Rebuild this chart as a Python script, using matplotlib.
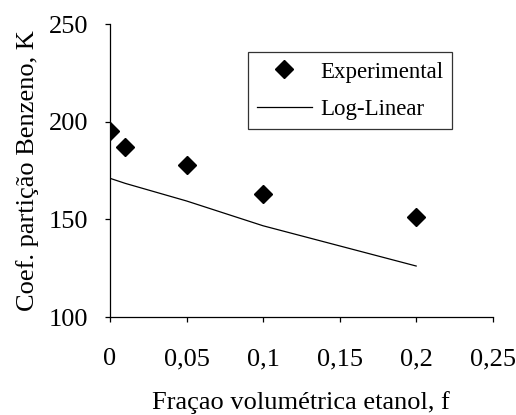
import matplotlib.pyplot as plt

# Benzene partition coefficient vs ethanol volume fraction
fracao = [0, 0.01, 0.05, 0.1, 0.2]
k_experimental = [195, 187, 178, 163, 151]
k_log_linear = [171, 168.4, 159.4, 146.7, 126.1]

plt.rcParams['font.family'] = ['Liberation Serif', 'DejaVu Serif']

fig = plt.figure(figsize=(5.16, 4.15), dpi=100)
ax = fig.add_axes([110 / 516, 1 - 317 / 415, (492.7 - 110) / 516, (317 - 24) / 415])

ax.plot(fracao, k_experimental, 'D', color='black', markersize=9, label='Experimental')
ax.plot(fracao, k_log_linear, '-', color='black', linewidth=0.9, label='Log-Linear')

ax.set_xlim(0, 0.25)
ax.set_ylim(100, 250)
ax.set_xticks([0, 0.05, 0.1, 0.15, 0.2, 0.25])
ax.set_xticklabels(['0', '0,05', '0,1', '0,15', '0,2', '0,25'])
ax.set_yticks([100, 150, 200, 250])

ax.spines['top'].set_visible(False)
ax.spines['right'].set_visible(False)
ax.spines['left'].set_linewidth(0.9)
ax.spines['bottom'].set_linewidth(0.9)
ax.tick_params(axis='both', direction='out', length=3.5, width=0.9, labelsize=19)
ax.tick_params(axis='x', pad=19)
ax.tick_params(axis='y', pad=12)

ax.set_xlabel('Fraçao volumétrica etanol, f', fontsize=19, labelpad=15)
ax.set_ylabel('Coef. partição Benzeno, K', fontsize=19, labelpad=7)

# legend box sits in the upper right, framed with a thin black border
leg = ax.legend(loc='upper right', bbox_to_anchor=((452.3 - 110) / 382.7, 1 - (52.3 - 24) / 293),
                fontsize=16.5, frameon=True, fancybox=False, edgecolor='black',
                handlelength=2.4, handletextpad=0.35, borderpad=0.4, labelspacing=0.7,
                numpoints=1, borderaxespad=0)
leg.get_frame().set_linewidth(0.9)

fig.savefig('out.png', dpi=100)
